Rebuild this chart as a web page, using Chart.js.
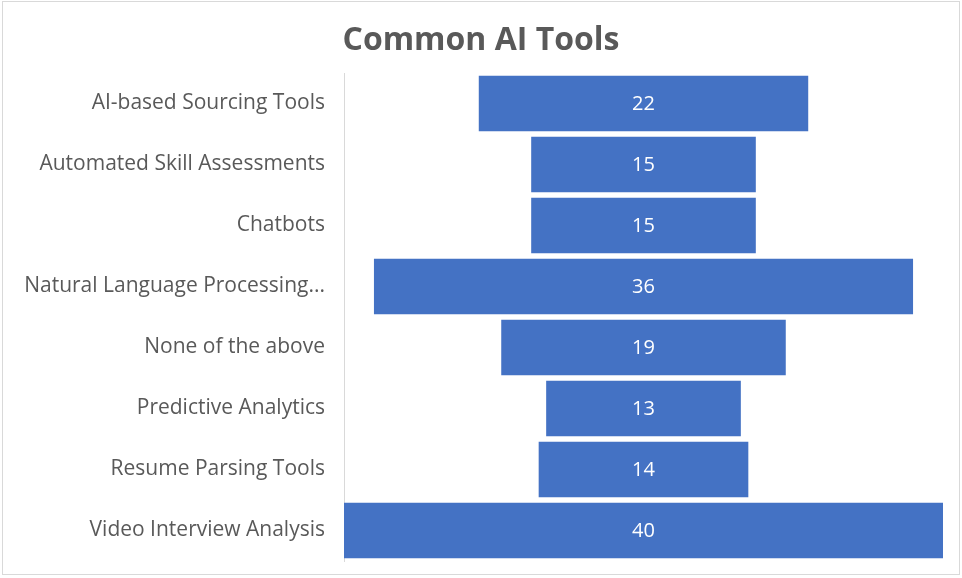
<!DOCTYPE html>
<html>
<head>
<meta charset="utf-8">
<script src="https://cdn.jsdelivr.net/npm/chart.js@4.4.1/dist/chart.umd.min.js"></script>
<style>
  html, body { margin: 0; padding: 0; background: #fff; }
  #wrap { width: 962px; height: 578px; position: relative; }
</style>
</head>
<body>
<div id="wrap"><canvas id="chartHerramientas" width="962" height="578"></canvas></div>
<script>
// Chart data
const categorias = [
    'AI-based Sourcing Tools',
    'Automated Skill Assessments',
    'Chatbots',
    'Natural Language Processing...',
    'None of the above',
    'Predictive Analytics',
    'Resume Parsing Tools',
    'Video Interview Analysis'
];
const valores = [22, 15, 15, 36, 19, 13, 14, 40];
const titulo = 'Common AI Tools';

// Funnel: each bar centered on half of the largest value
const maximo = Math.max(...valores);
const barrasCentradas = valores.map(v => [(maximo - v) / 2, (maximo + v) / 2]);

// Plugin: outer frame, title and value labels
const extras = {
    id: 'extras',
    afterDraw(chart) {
        const ctx = chart.ctx;
        ctx.save();
        ctx.strokeStyle = '#d9d9d9';
        ctx.lineWidth = 1;
        ctx.strokeRect(2.5, 1.5, 957, 573);

        ctx.fillStyle = '#595959';
        ctx.font = 'bold 32px "Open Sans"';
        ctx.textAlign = 'center';
        ctx.textBaseline = 'middle';
        ctx.fillText(titulo, 481, 41);

        ctx.fillStyle = '#ffffff';
        ctx.font = '20px "Open Sans"';
        chart.getDatasetMeta(0).data.forEach((bar, i) => {
            ctx.fillText(String(valores[i]), (bar.x + bar.base) / 2, bar.y + 1);
        });
        ctx.restore();
    }
};

const ctxHerramientas = document.getElementById('chartHerramientas').getContext('2d');
new Chart(ctxHerramientas, {
    type: 'bar',
    data: {
        labels: categorias,
        datasets: [{
            label: titulo,
            data: barrasCentradas,
            backgroundColor: '#4472c4',
            borderWidth: 0,
            borderSkipped: false,
            barPercentage: 0.91,
            categoryPercentage: 1
        }]
    },
    options: {
        indexAxis: 'y',
        responsive: false,
        animation: false,
        layout: {
            padding: { top: 73, bottom: 17, right: 19, left: 0 }
        },
        plugins: {
            legend: { display: false },
            title: { display: false },
            tooltip: { enabled: false }
        },
        scales: {
            x: {
                display: false,
                min: 0,
                max: maximo
            },
            y: {
                afterFit: (escala) => {
                    escala.width = 344;
                    escala.paddingTop = 0;
                    escala.paddingBottom = 0;
                },
                grid: { display: true, drawOnChartArea: false, drawTicks: false },
                border: { display: true, color: '#d9d9d9', width: 1 },
                ticks: {
                    padding: 19,
                    color: '#595959',
                    font: { family: 'Open Sans', size: 21 }
                }
            }
        }
    },
    plugins: [extras]
});
</script>
</body>
</html>
